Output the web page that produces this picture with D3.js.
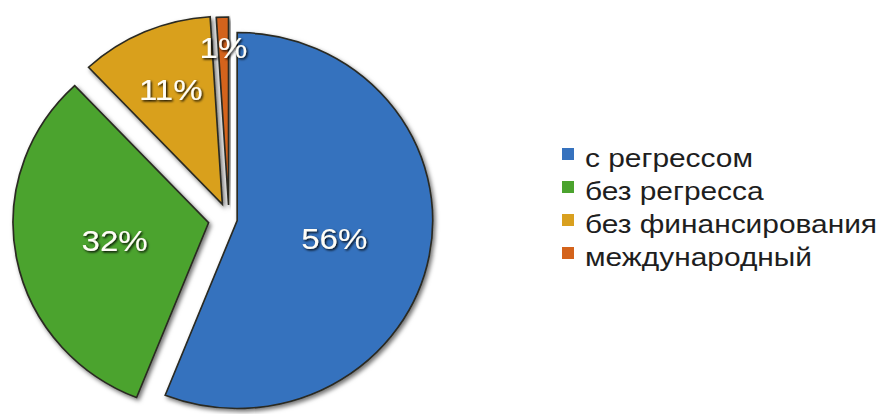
<!DOCTYPE html>
<html>
<head>
<meta charset="utf-8">
<script src="https://cdn.jsdelivr.net/npm/d3@7"></script>
<style>
  html, body { margin: 0; padding: 0; background: #fff; }
  svg { display: block; }
  text { font-family: "Liberation Sans", Arial, sans-serif; }
</style>
</head>
<body>
<svg id="chart" width="878" height="414"></svg>
<script>
// Data: distribution by type (percent)
const categories = ["с регрессом", "без регресса", "без финансирования", "международный"];
const values = [56, 32, 11, 1];
const labels = ["56%", "32%", "11%", "1%"];
const colors = ["#3672BE", "#4BA32E", "#D9A01F", "#D4631B"];

// Layout
const cx = 229, cy = 219, R = 188, sx = 1.04;
const explode = [8, 20, 16, 14];        // slice pull-out, px
const labelR = [95, 92, 125, 158];      // label distance from slice apex, px

const svg = d3.select("#chart");

const defs = svg.append("defs");
const sh = defs.append("filter").attr("id", "shadow")
  .attr("x", "-20%").attr("y", "-20%").attr("width", "140%").attr("height", "140%");
sh.append("feDropShadow").attr("dx", 2).attr("dy", 2.5).attr("stdDeviation", 2)
  .attr("flood-color", "#000").attr("flood-opacity", 0.55);
const tsh = defs.append("filter").attr("id", "tshadow")
  .attr("x", "-20%").attr("y", "-30%").attr("width", "140%").attr("height", "160%");
tsh.append("feDropShadow").attr("dx", 1.2).attr("dy", 1.4).attr("stdDeviation", 1)
  .attr("flood-color", "#000").attr("flood-opacity", 0.95);

const pie = d3.pie().sort(null).value(d => d);
const arcs = pie(values);
const arc = d3.arc().innerRadius(0).outerRadius(R);

const g = svg.append("g").attr("transform", `translate(${cx},${cy}) scale(${sx},1)`);

function offset(d, i) {
  const a = (d.startAngle + d.endAngle) / 2;
  return [Math.sin(a) * explode[i], -Math.cos(a) * explode[i]];
}

g.selectAll("path.slice")
  .data(arcs)
  .join("path")
  .attr("class", "slice")
  .attr("transform", (d, i) => { const o = offset(d, i); return `translate(${o[0]},${o[1]})`; })
  .attr("d", arc)
  .attr("fill", (d, i) => colors[i])
  .attr("stroke", "#2a2a22")
  .attr("stroke-width", 1.6)
  .attr("stroke-linejoin", "miter")
  .attr("filter", "url(#shadow)");

// Percentage labels
const lg = svg.append("g").attr("transform", `translate(${cx},${cy})`);
lg.selectAll("text")
  .data(arcs)
  .join("text")
  .attr("transform", (d, i) => {
    const a = (d.startAngle + d.endAngle) / 2;
    const o = offset(d, i);
    const x = (o[0] + Math.sin(a) * labelR[i]) * sx;
    const y = o[1] - Math.cos(a) * labelR[i];
    return `translate(${x},${y}) scale(1.1,1)`;
  })
  .attr("text-anchor", "middle")
  .attr("dy", "0.36em")
  .attr("font-size", 30)
  .attr("fill", "#fffdf6")
  .attr("filter", "url(#tshadow)")
  .text((d, i) => labels[i]);

// Legend
const legend = svg.append("g").attr("transform", "translate(562,154)");
const rowH = 33;
const item = legend.selectAll("g")
  .data(categories)
  .join("g")
  .attr("transform", (d, i) => `translate(0,${i * rowH})`);
item.append("rect")
  .attr("x", 0).attr("y", -6).attr("width", 12).attr("height", 12)
  .attr("fill", (d, i) => colors[i]);
item.append("text")
  .attr("transform", "translate(23,0) scale(1.15,1)")
  .attr("dy", "0.5em")
  .attr("font-size", 26)
  .attr("fill", "#1e1e1e")
  .text(d => d);
</script>
</body>
</html>
